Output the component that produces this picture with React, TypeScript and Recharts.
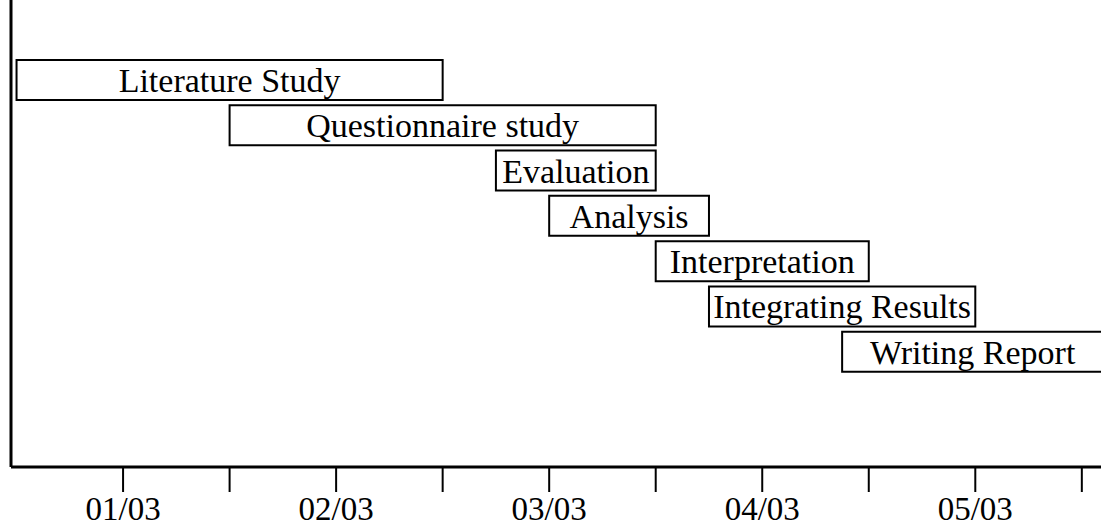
import { BarChart, Bar, XAxis, YAxis, LabelList } from 'recharts';

// tasks, top to bottom; start/end in months (1 = 01/03)
const TASKS = [
  'Literature Study',
  'Questionnaire study',
  'Evaluation',
  'Analysis',
  'Interpretation',
  'Integrating Results',
  'Writing Report',
];
const STARTS = [0.5, 1.5, 2.75, 3.0, 3.5, 3.75, 4.375];
const ENDS = [2.5, 3.5, 3.5, 3.75, 4.5, 5.0, 5.6];

const TICKS = [1, 1.5, 2, 2.5, 3, 3.5, 4, 4.5, 5, 5.5];
const MONTH_LABELS = ['01/03', '02/03', '03/03', '04/03', '05/03'];

const FONT = '"Liberation Serif", "Times New Roman", serif';

const data = TASKS.map((task, i) => ({ task, span: [STARTS[i], ENDS[i]] }));

const tickLabel = (v: number) => (Number.isInteger(v) ? MONTH_LABELS[v - 1] ?? '' : '');

export default function App() {
  return (
    <div style={{ position: 'absolute', left: 0, top: 0, width: 1101, height: 531, overflow: 'hidden', background: '#fff' }}>
      <BarChart
        layout="vertical"
        width={1101}
        height={531}
        data={data}
        margin={{ top: 0, right: 0, bottom: 0, left: 0 }}
      >
        <XAxis
          type="number"
          domain={[0.474, 5.59]}
          allowDataOverflow
          ticks={TICKS}
          tickFormatter={tickLabel}
          height={64}
          tickSize={25}
          tickMargin={5}
          axisLine={{ stroke: '#000', strokeWidth: 3 }}
          tickLine={{ stroke: '#000', strokeWidth: 2 }}
          tick={{ fill: '#000', fontSize: 33, fontFamily: FONT }}
          interval={0}
        />
        <YAxis
          type="category"
          dataKey="task"
          width={11}
          tick={false}
          tickLine={false}
          padding={{ top: 57, bottom: 93 }}
          axisLine={{ stroke: '#000', strokeWidth: 3 }}
        />
        <Bar dataKey="span" barSize={40} fill="#fff" stroke="#000" strokeWidth={2} isAnimationActive={false}>
          <LabelList
            dataKey="task"
            position="center"
            fill="#000"
            stroke="none"
            style={{ fontSize: 34, fontFamily: FONT }}
          />
        </Bar>
      </BarChart>
    </div>
  );
}
